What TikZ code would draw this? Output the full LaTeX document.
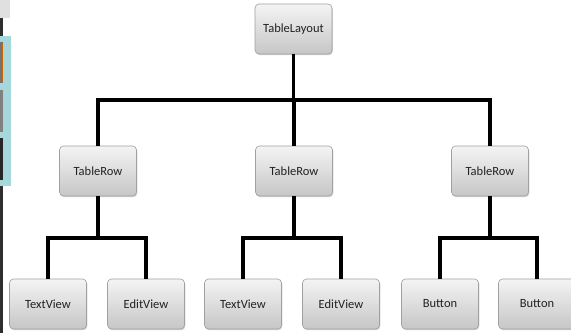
\documentclass[tikz,border=0pt]{standalone}
\usepackage{fontspec}
\setmainfont{Carlito}
\usetikzlibrary{shadows}
\definecolor{boxtop}{HTML}{F4F4F4}
\definecolor{boxbot}{HTML}{C6C6C6}
\definecolor{boxedge}{HTML}{A0A0A0}
\definecolor{labeltext}{HTML}{222222}
\definecolor{panelblue}{HTML}{A6D8DB}
\definecolor{stripdark}{HTML}{2E2E2E}
\tikzset{
  viewbox/.style={draw=boxedge, line width=0.6pt, rounded corners=4pt,
    top color=boxtop, bottom color=boxbot,
    drop shadow={opacity=0.35, shadow xshift=0.8pt, shadow yshift=-1.2pt},
    minimum width=77pt, minimum height=50pt, inner sep=0pt,
    font=\fontsize{12.5}{14}\selectfont, text=labeltext},
  wire/.style={draw=black, line width=3.2pt}
}
\begin{document}
\begin{tikzpicture}[x=1pt, y=-1pt]
\useasboundingbox (0,0) rectangle (571,333);
\fill[white] (0,0) rectangle (571,333);

% window edge on the left
\fill[black!12] (0,0) rectangle (10,18);
\fill[stripdark] (0,18) rectangle (3,333);
\fill[panelblue] (0,36) rectangle (11,186);
\fill[black!55] (0,42) rectangle (3,83);
\fill[orange!80!black] (2.3,44) rectangle (3,81);
\fill[black!50] (0,90) rectangle (3,132);
\fill[black!85] (0,138) rectangle (3,180);

% tree nodes
\node[viewbox] (root) at (293.5,29) {TableLayout};
\node[viewbox] (row1) at (98,171) {TableRow};
\node[viewbox] (row2) at (294,171) {TableRow};
\node[viewbox] (row3) at (490,171) {TableRow};
\node[viewbox] (tv1) at (48,304) {TextView};
\node[viewbox] (ev1) at (146,304) {EditView};
\node[viewbox] (tv2) at (243,304) {TextView};
\node[viewbox] (ev2) at (341,304) {EditView};
\node[viewbox] (bt1) at (440,304) {Button};
\node[viewbox] (bt2) at (537,304) {Button};

% junction points of the connectors
\coordinate (j0) at (293.5,100);
\coordinate (j1) at (98,238);
\coordinate (j2) at (294,238);
\coordinate (j3) at (490,238);

% connectors
\draw[wire] (root.south) -- (j0);
\draw[wire] (j0) -| (row1.north);
\draw[wire] (j0) -| (row3.north);
\draw[wire] (j0 -| row2.north) -- (row2.north);

\draw[wire] (row1.south) -- (j1);
\draw[wire] (j1) -| (tv1.north);
\draw[wire] (j1) -| (ev1.north);

\draw[wire] (row2.south) -- (j2);
\draw[wire] (j2) -| (tv2.north);
\draw[wire] (j2) -| (ev2.north);

\draw[wire] (row3.south) -- (j3);
\draw[wire] (j3) -| (bt1.north);
\draw[wire] (j3) -| (bt2.north);
\end{tikzpicture}
\end{document}
